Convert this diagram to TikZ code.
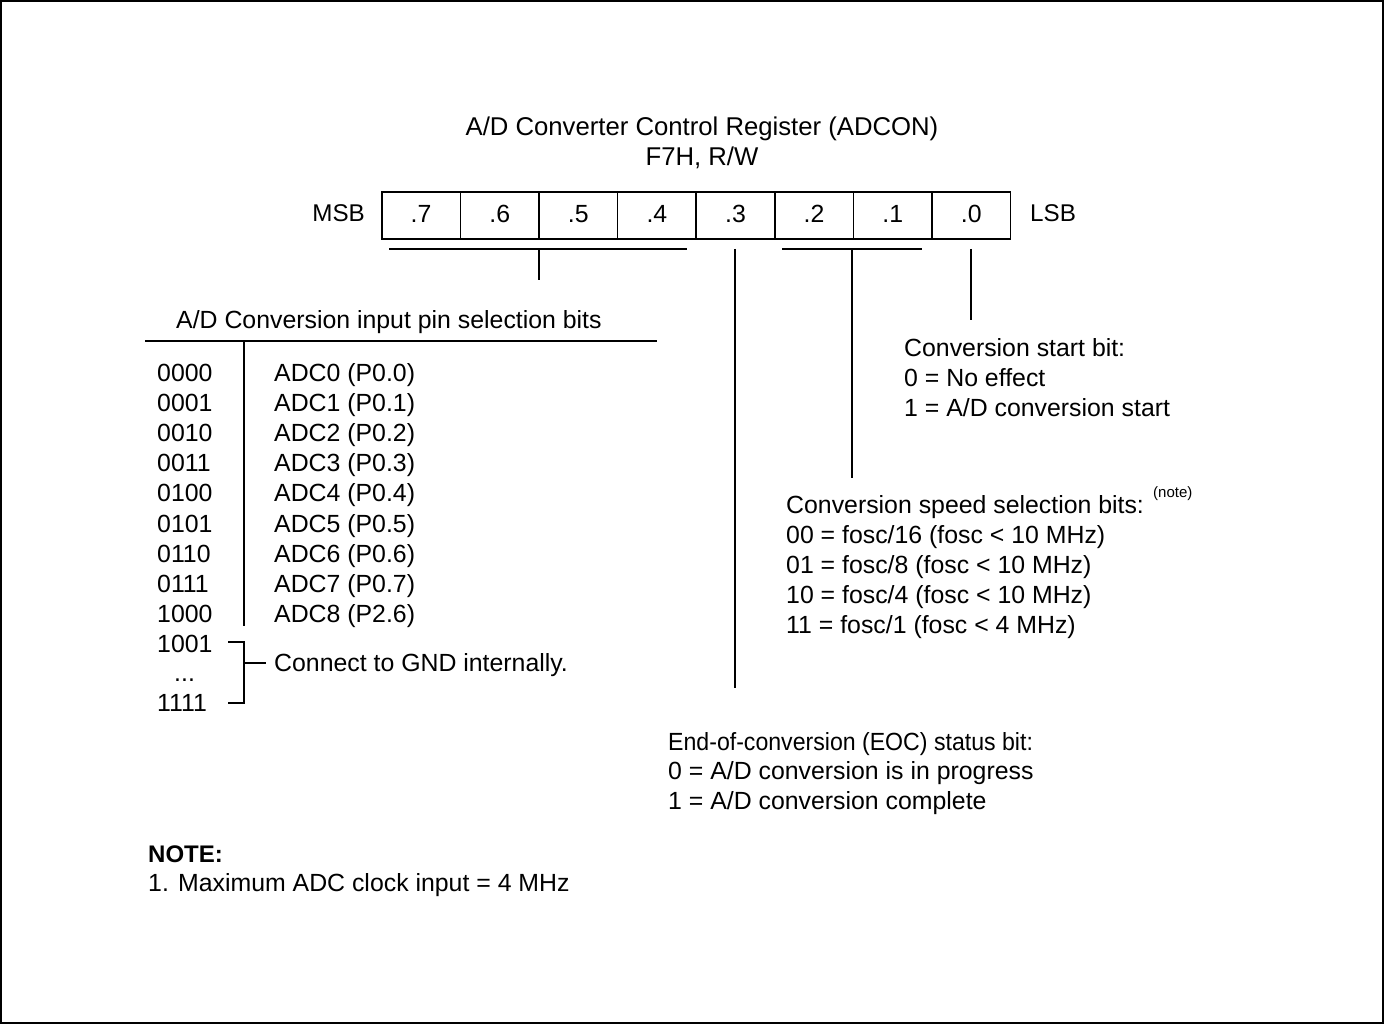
\documentclass[tikz,border=0pt]{standalone}
\usepackage{fontspec}
\usetikzlibrary{calc}
\setmainfont{Liberation Sans}
\newfontfamily\eocfont[FakeStretch=0.93]{Liberation Sans}
\begin{document}
\begin{tikzpicture}[x=1pt,y=-1pt,
  txt/.style={inner sep=0pt,anchor=base west,font=\fontsize{24.85}{29}\selectfont},
  ctxt/.style={inner sep=0pt,anchor=base,font=\fontsize{24.85}{29}\selectfont},
  bitcell/.style={draw,line width=1.6pt,minimum width=78.6pt,minimum height=47pt,inner sep=0pt,anchor=north west},
  ln/.style={line width=1.6pt}]
\useasboundingbox (0,0) rectangle (1384,1024);
\draw[line width=1.4pt] (1,1) rectangle (1383,1023);
% title
\node[ctxt,font=\fontsize{25.7}{30}\selectfont] (title) at (702,136) {A/D Converter Control Register (ADCON)};
\node[ctxt,font=\fontsize{25.7}{30}\selectfont] (addr) at (702,166) {F7H, R/W};
% register
\foreach \b [count=\i from 0] in {7,6,5,4,3,2,1,0} {
  \node[bitcell] (b\b) at ({381+78.6*\i},191) {};
  \node[ctxt] (t\b) at ($(b\b.center)+(0,7.5)$) {.\b};
}
\node[inner sep=0pt,anchor=base east,font=\fontsize{24.2}{29}\selectfont] (msb) at (365,222) {MSB};
\node[inner sep=0pt,anchor=base west,font=\fontsize{24.2}{29}\selectfont] (lsb) at (1030,222) {LSB};
% brackets
\coordinate (g74l) at (389,249); \coordinate (g74r) at (687,249);
\coordinate (g74m) at (539,249); \coordinate (g74e) at (539,280);
\draw[ln] (g74l) -- (g74r); \draw[ln] (g74m) -- (g74e);
\coordinate (g3s) at (735,249); \coordinate (g3e) at (735,688);
\draw[ln] (g3s) -- (g3e);
\coordinate (g21l) at (782,249); \coordinate (g21r) at (922,249);
\coordinate (g21m) at (852,249); \coordinate (g21e) at (852,478);
\draw[ln] (g21l) -- (g21r); \draw[ln] (g21m) -- (g21e);
\coordinate (g0s) at (971,249); \coordinate (g0e) at (971,320);
\draw[ln] (g0s) -- (g0e);
% left table
\node[txt] (pinhead) at (176,329) {A/D Conversion input pin selection bits};
\coordinate (hl) at (145,341); \coordinate (hr) at (657,341);
\draw[ln] (hl) -- (hr);
\coordinate (vt) at (244,341); \coordinate (vb) at (244,626);
\draw[ln] (vt) -- (vb);
\foreach \c/\a [count=\i from 0] in {0000/ADC0 (P0.0),0001/ADC1 (P0.1),0010/ADC2 (P0.2),0011/ADC3 (P0.3),0100/ADC4 (P0.4),0101/ADC5 (P0.5),0110/ADC6 (P0.6),0111/ADC7 (P0.7),1000/ADC8 (P2.6)} {
  \node[txt] (c\i) at (157,{381+30.2*\i}) {\c};
  \node[txt] (a\i) at (274,{381+30.2*\i}) {\a};
}
\node[txt] (c9) at (157,652) {1001};
\node[txt] (cdots) at (174,681) {...};
\node[txt] (c15) at (157,711) {1111};
\coordinate (br1) at (228,642); \coordinate (br2) at (244,642);
\coordinate (br3) at (244,703); \coordinate (br4) at (228,703);
\coordinate (brm) at (244,663); \coordinate (brt) at (266,663);
\draw[ln] (br1) -- (br2) -- (br3) -- (br4);
\draw[ln] (brm) -- (brt);
\node[txt] (gnd) at (274,671) {Connect to GND internally.};
% bit 0
\node[txt] (s0) at (904,356) {Conversion start bit:};
\node[txt] (s1) at (904,386) {0 = No effect};
\node[txt] (s2) at (904,416) {1 = A/D conversion start};
% bits 2-1
\node[txt] (p0) at (786,513) {Conversion speed selection bits:};
\node[inner sep=0pt,anchor=base west,font=\fontsize{15}{18}\selectfont] (note) at (1153,497) {(note)};
\node[txt] (p1) at (786,543) {00 = fosc/16 (fosc < 10 MHz)};
\node[txt] (p2) at (786,573) {01 = fosc/8 (fosc < 10 MHz)};
\node[txt] (p3) at (786,603) {10 = fosc/4 (fosc < 10 MHz)};
\node[txt] (p4) at (786,633) {11 = fosc/1 (fosc < 4 MHz)};
% bit 3
\node[txt,font=\eocfont\fontsize{24.85}{29}\selectfont] (e0) at (668,750) {End-of-conversion (EOC) status bit:};
\node[txt] (e1) at (668,779) {0 = A/D conversion is in progress};
\node[txt] (e2) at (668,809) {1 = A/D conversion complete};
% note
\node[txt,font=\bfseries\fontsize{24}{29}\selectfont] (nt) at (148,862) {NOTE:};
\node[txt] (n1) at (148,891) {1. Maximum ADC clock input = 4 MHz};
\end{tikzpicture}
\end{document}
